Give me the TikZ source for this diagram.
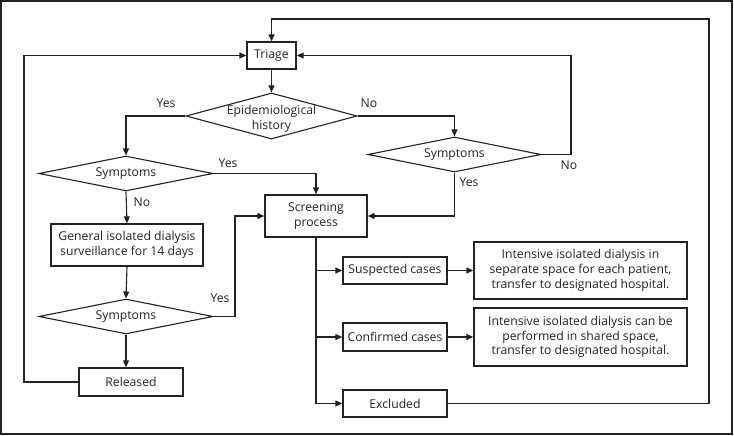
\documentclass[tikz,border=0pt]{standalone}
\usepackage{fontspec}
\setmainfont{Open Sans}
\usetikzlibrary{shapes.geometric,arrows.meta}
\definecolor{ink}{HTML}{222222}
\begin{document}
\begin{tikzpicture}[x=1pt,y=-1pt,
  every node/.style={font=\fontsize{12.2}{14.7}\selectfont, text=ink},
  box/.style={draw=ink, line width=1.3pt, rectangle, inner sep=0pt, align=center},
  dia/.style={draw=ink, line width=1.1pt, diamond, inner sep=0pt},
  diatext/.style={align=center, inner sep=0pt},
  conn/.style={draw=ink, line width=1.1pt},
  arr/.style={conn, -{Triangle[length=7pt,width=6pt]}},
  lbl/.style={inner sep=0pt}
]
\useasboundingbox (0,0) rectangle (734,436);
\draw[ink, line width=1.2pt] (1,1) rectangle (732,434);

\node[box, minimum width=49pt, minimum height=27pt] (triage) at (271.5,55.5) {Triage};
\node[dia, minimum width=171pt, minimum height=46pt] (epi) at (271.5,116) {};
\node[diatext] (epit) at (271.5,119) {Epidemiological\\history};
\node[dia, minimum width=174pt, minimum height=35pt] (sym1) at (126,173.5) {};
\node[diatext] (sym1t) at (126,173.5) {Symptoms};
\node[dia, minimum width=174pt, minimum height=35pt] (sym2) at (126,316.5) {};
\node[diatext] (sym2t) at (126,316.5) {Symptoms};
\node[dia, minimum width=173pt, minimum height=35pt] (sym3) at (454.5,154.5) {};
\node[diatext] (sym3t) at (454.5,154.5) {Symptoms};
\node[box, minimum width=152pt, minimum height=42pt] (general) at (127,245) {General isolated dialysis\\surveillance for 14 days};
\node[box, minimum width=104pt, minimum height=28pt] (released) at (131,382) {Released};
\node[box, minimum width=102pt, minimum height=42pt] (screening) at (316,216) {Screening\\process};
\node[box, minimum width=104pt, minimum height=27pt] (suspected) at (395,270.5) {Suspected cases};
\node[box, minimum width=104pt, minimum height=28pt] (confirmed) at (395,337) {Confirmed cases};
\node[box, minimum width=104pt, minimum height=27pt] (excluded) at (395,403.5) {Excluded};
\node[box, minimum width=213pt, minimum height=57pt] (sepbox) at (580.5,270.5) {Intensive isolated dialysis in\\separate space for each patient,\\transfer to designated hospital.};
\node[box, minimum width=213pt, minimum height=58pt] (sharedbox) at (580.5,337) {Intensive isolated dialysis can be\\performed in shared space,\\transfer to designated hospital.};

\coordinate (topright) at (709,19);
\coordinate (leftx) at (24,382);
\coordinate (s2turn) at (235,316.5);
\coordinate (s3turn) at (571,154.5);
\coordinate (trunk) at (316,403.5);

% flows
\draw[arr] (triage) -- (epi);
\draw[arr] (epi.west) -| (sym1.north);
\draw[arr] (epi.east) -| (sym3.north);
\draw[arr] (sym1.east) -| (screening.north);
\draw[arr] (sym1.south) -- (general.north);
\draw[arr] (general.south) -- (sym2.north);
\draw[arr] (sym2.south) -- (sym2.south |- released.north);
\draw[arr] (sym2.east) -- (s2turn) |- (screening.west);
\draw[arr] (sym3.south) |- (screening.east);
\draw[arr] (sym3.east) -- (s3turn) |- (triage.east);
\draw[arr] (released.west) -- (leftx) |- (triage.west);
\draw[arr] (excluded.east) -- (excluded.east -| topright) -- (topright) -| (triage.north);
\draw[conn] (screening.south) -- (trunk);
\draw[arr] (trunk) -- (excluded.west);
\draw[arr] (screening.south |- suspected.west) -- (suspected.west);
\draw[arr] (screening.south |- confirmed.west) -- (confirmed.west);
\draw[arr] (suspected.east) -- (sepbox.west);
\draw[arr] (confirmed.east) -- (sharedbox.west);

% labels
\node[lbl] (l1) at (166,103) {Yes};
\node[lbl] (l2) at (369,103) {No};
\node[lbl] (l3) at (228,163) {Yes};
\node[lbl] (l4) at (142,202) {No};
\node[lbl] (l5) at (220,298) {Yes};
\node[lbl] (l6) at (469,182) {Yes};
\node[lbl] (l7) at (569,165) {No};
\end{tikzpicture}
\end{document}
